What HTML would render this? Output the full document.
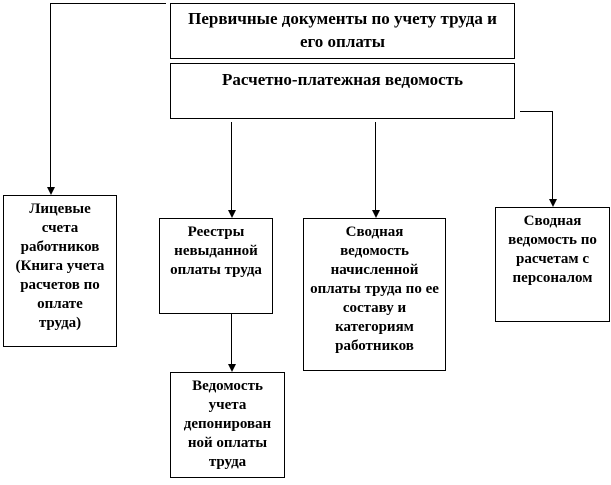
<!DOCTYPE html>
<html><head><meta charset="utf-8"><style>
body{margin:0;width:611px;height:485px;background:#fff;position:relative;overflow:hidden;font-family:"Liberation Serif",serif;font-weight:bold;font-size:15px;color:#000}
.b{position:absolute;border:1px solid #000;box-sizing:border-box;text-align:center;line-height:19px;padding-top:4px;white-space:nowrap}
.l{position:absolute;background:#000}
.a{position:absolute;width:0;height:0;border-left:4px solid transparent;border-right:4px solid transparent;border-top:8px solid #000}
</style></head><body>
<div class="b" style="left:170px;top:3px;width:345px;height:56px;font-size:17px;line-height:23px;padding-top:3px">Первичные документы по учету труда и<br>его оплаты</div>
<div class="b" style="left:170px;top:63px;width:345px;height:56px;font-size:17px;padding-top:6px">Расчетно-платежная ведомость</div>
<div class="l" style="left:50px;top:3px;width:116px;height:1px"></div>
<div class="l" style="left:50px;top:3px;width:1px;height:186px"></div>
<div class="a" style="left:46.5px;top:187px"></div>
<div class="l" style="left:520px;top:111px;width:32px;height:1px"></div>
<div class="l" style="left:552px;top:111px;width:1px;height:90px"></div>
<div class="a" style="left:548.5px;top:199px"></div>
<div class="l" style="left:231px;top:122px;width:1px;height:90px"></div>
<div class="a" style="left:227.5px;top:210px"></div>
<div class="l" style="left:375px;top:122px;width:1px;height:90px"></div>
<div class="a" style="left:371.5px;top:210px"></div>
<div class="l" style="left:231px;top:313px;width:1px;height:52px"></div>
<div class="a" style="left:227.5px;top:364px"></div>
<div class="b" style="left:3px;top:195px;width:114px;height:152px">Лицевые<br>счета<br>работников<br>(Книга учета<br>расчетов по<br>оплате<br>труда)</div>
<div class="b" style="left:159px;top:218px;width:114px;height:96px">Реестры<br>невыданной<br>оплаты труда</div>
<div class="b" style="left:303px;top:218px;width:143px;height:153px">Сводная<br>ведомость<br>начисленной<br>оплаты труда по ее<br>составу и<br>категориям<br>работников</div>
<div class="b" style="left:495px;top:207px;width:115px;height:115px">Сводная<br>ведомость по<br>расчетам с<br>персоналом</div>
<div class="b" style="left:170px;top:372px;width:115px;height:106px">Ведомость<br>учета<br>депонирован<br>ной оплаты<br>труда</div>
</body></html>
